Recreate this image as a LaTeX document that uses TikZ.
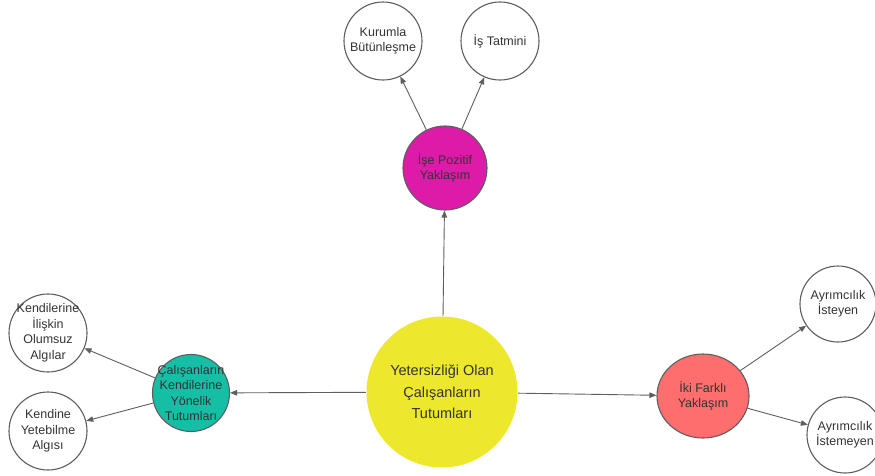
\documentclass[tikz,border=0pt]{standalone}
\usepackage{fontspec}
\setmainfont{Liberation Sans}
\usetikzlibrary{arrows.meta,shapes.geometric}

\definecolor{sari}{HTML}{EDE82C}
\definecolor{pembe}{HTML}{DC1BA9}
\definecolor{yesil}{HTML}{15BFA6}
\definecolor{kirmizi}{HTML}{FF6E6E}
\definecolor{cizgi}{HTML}{5E5E5E}
\definecolor{yazi}{HTML}{333333}

\begin{document}
\begin{tikzpicture}[x=1pt,y=-1pt,
    bub/.style={circle, draw=cizgi, line width=1.1pt, minimum size=78pt, inner sep=0pt},
    lbl/.style={align=center, text=yazi, font=\fontsize{12.5}{15.5}\selectfont},
    ok/.style={draw=cizgi, line width=0.9pt, -{Triangle[length=7pt,width=5.5pt]}}]
                \useasboundingbox (0,0) rectangle (875,475);
                \node [bub, draw=none, fill=sari, minimum size=151pt,
                       label={[lbl, font=\fontsize{14.5}{21.5}\selectfont]center:Yetersizliği Olan\\Çalışanların\\Tutumları}] (tutum) at (442,392) {};
                \node [bub, fill=pembe, minimum size=84pt, label={[lbl]center:İşe Pozitif\\Yaklaşım}] (pozitif) at (445,168) {};
                \node [bub, label={[lbl]center:Kurumla\\Bütünleşme}] (kurum) at (383,41) {};
                \node [bub, label={[lbl]center:İş Tatmini}] (tatmin) at (500,41) {};
                \node [bub, fill=yesil, minimum size=77pt, label={[lbl]center:Çalışanların\\Kendilerine\\Yönelik\\Tutumları}] (kendi) at (191,393) {};
                \node [bub, label={[lbl]center:Kendilerine\\İlişkin\\Olumsuz\\Algılar}] (olumsuz) at (48,333) {};
                \node [bub, label={[lbl]center:Kendine\\Yetebilme\\Algısı}] (yetebil) at (48,431) {};
                \node [bub, ellipse, fill=kirmizi, minimum width=92pt, minimum height=84pt,
                       label={[lbl]center:İki Farklı\\Yaklaşım}] (iki) at (703,396) {};
                \node [bub, minimum size=76pt, label={[lbl]center:Ayrımcılık\\İsteyen}] (isteyen) at (838,304) {};
                \node [bub, minimum size=76pt, label={[lbl]center:Ayrımcılık\\İstemeyen}] (istemeyen) at (845,435) {};
                \draw [ok] (tutum) -- (pozitif);
                \draw [ok] (tutum) -- (kendi);
                \draw [ok] (tutum) -- (iki);
                \draw [ok] (pozitif) -- (kurum);
                \draw [ok] (pozitif) -- (tatmin);
                \draw [ok] (kendi) -- (olumsuz);
                \draw [ok] (kendi) -- (yetebil);
                \draw [ok] (iki) -- (isteyen);
                \draw [ok] (iki) -- (istemeyen);
\end{tikzpicture}
\end{document}
